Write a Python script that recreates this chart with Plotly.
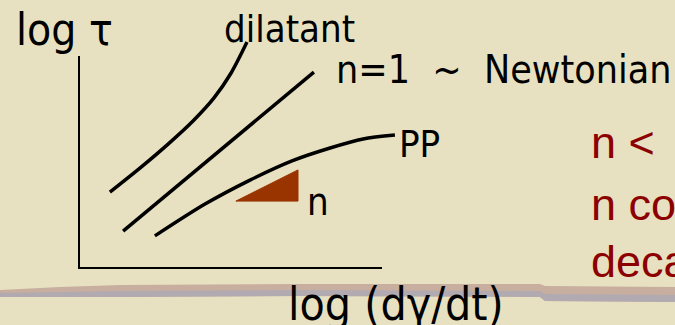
import plotly.graph_objects as go

# Schematic flow curves on log-log axes (arbitrary decades)
axis_x = [0.0, 0.0, 10.1]
axis_y = [7.07, 0.0, 0.0]

dilatant_x = [1.03, 2.03, 2.97, 3.80, 4.50, 5.07, 5.60]
dilatant_y = [2.53, 3.33, 4.13, 4.90, 5.67, 6.50, 7.53]

newtonian_x = [1.47, 7.83]
newtonian_y = [1.23, 6.53]

pp_x = [2.53, 4.20, 5.70, 7.10, 8.37, 9.47, 10.53]
pp_y = [1.07, 2.13, 2.93, 3.57, 4.00, 4.30, 4.43]

slope_x = [5.23, 7.30, 7.30, 5.23]
slope_y = [2.23, 3.27, 2.23, 2.23]

BG = "#E7E1C1"
INK = "black"
RED = "#8C0000"
BLACK_FONT = "DejaVu Sans Condensed, Noto Sans, DejaVu Sans, sans-serif"
RED_FONT = "Liberation Sans, Arial, sans-serif"

fig = go.Figure()

fig.add_trace(go.Scatter(x=axis_x, y=axis_y, mode="lines",
                         line=dict(color=INK, width=2), hoverinfo="skip"))
fig.add_trace(go.Scatter(x=dilatant_x, y=dilatant_y, mode="lines",
                         line=dict(color=INK, width=3.5, shape="spline", smoothing=0.8),
                         hoverinfo="skip"))
fig.add_trace(go.Scatter(x=newtonian_x, y=newtonian_y, mode="lines",
                         line=dict(color=INK, width=3.5), hoverinfo="skip"))
fig.add_trace(go.Scatter(x=pp_x, y=pp_y, mode="lines",
                         line=dict(color=INK, width=3.5, shape="spline", smoothing=0.8),
                         hoverinfo="skip"))
fig.add_trace(go.Scatter(x=slope_x, y=slope_y, mode="lines", fill="toself",
                         fillcolor="#993300", line=dict(color="#993300", width=1),
                         hoverinfo="skip"))

W, H = 675, 325


def px(xp, yp):
    return xp / W, 1 - yp / H


def label(text, xp, yc, size, color=INK, family=BLACK_FONT):
    x, y = px(xp, yc)
    fig.add_annotation(text=text, x=x, y=y, xref="paper", yref="paper",
                       xanchor="left", yanchor="middle", showarrow=False,
                       font=dict(size=size, color=color, family=family))


label("log τ", 14, 29.6, 44)
label("dilatant", 222, 28.7, 38)
label("n=1  ~  Newtonian", 334, 69.7, 39)
label("PP", 397, 143.7, 38)
label("n", 305, 201.7, 38)
label("log (dγ/dt)", 286, 303.5, 46)
label("n <  1", 589, 142.4, 45, RED, RED_FONT)
label("n constant over", 589, 204.4, 45, RED, RED_FONT)
label("decades", 589, 261.4, 45, RED, RED_FONT)


# Decorative band across the lower part of the slide
def path(points):
    return "M " + " L ".join(f"{x / W:.4f},{1 - y / H:.4f}" for x, y in points) + " Z"


band_top = [(0, 290), (60, 287), (120, 285), (300, 284), (540, 284), (545, 286), (675, 287),
            (675, 302), (545, 301), (540, 297), (300, 296), (120, 297), (0, 297)]
band_low = [(0, 293), (120, 291), (300, 290), (540, 291), (545, 294), (675, 295),
            (675, 302), (545, 301), (540, 297), (300, 296), (120, 297), (0, 297)]
fig.add_shape(type="path", xref="paper", yref="paper", path=path(band_top),
              fillcolor="#C8AE9F", line=dict(width=0), layer="below")
fig.add_shape(type="path", xref="paper", yref="paper", path=path(band_low),
              fillcolor="#AEA9B4", line=dict(width=0), layer="below", opacity=0.85)

fig.update_layout(
    width=W, height=H, margin=dict(l=0, r=0, t=0, b=0),
    paper_bgcolor=BG, plot_bgcolor=BG, showlegend=False,
    xaxis=dict(range=[-79 / 30, 596 / 30], visible=False, fixedrange=True),
    yaxis=dict(range=[-57 / 30, 268 / 30], visible=False, fixedrange=True),
)

fig.write_html("out.html", config={"displayModeBar": False})
